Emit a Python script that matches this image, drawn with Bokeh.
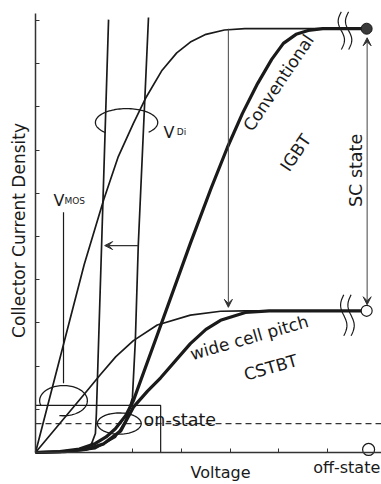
import numpy as np
from bokeh.plotting import figure
from bokeh.models import Range1d, Label, Arrow, VeeHead, FixedTicker, LinearAxis
from bokeh.embed import file_html
from bokeh.resources import INLINE

FONT = "DejaVu Sans"
INK = "#1a1a1a"

# ---------------- data (Voltage, Current density; arbitrary units) ----------------
mos_hi_v = [0, 1.0, 1.4, 1.7, 2.01, 2.26, 2.6, 2.9, 3.18, 3.5, 3.88, 4.3, 6.80]
mos_hi_i = [0, 4.35, 5.85, 6.85, 7.62, 8.2, 8.85, 9.25, 9.5, 9.68, 9.78, 9.81, 9.81]

mos_lo_v = [0, 1.0, 1.33, 1.65, 2.01, 2.5, 3.18, 3.8, 4.3, 6.80]
mos_lo_i = [0, 1.35, 1.8, 2.22, 2.59, 2.95, 3.18, 3.27, 3.28, 3.28]

conv_v = [0, 0.5, 0.9, 1.23, 1.45, 1.64, 1.85, 2.01, 2.5, 3.18, 3.6, 3.94, 4.25, 4.56, 4.85, 5.09, 5.35, 5.6, 5.9, 6.80]
conv_i = [0, 0.02, 0.08, 0.21, 0.36, 0.55, 0.85, 1.2, 2.72, 4.84, 6.1, 7.06, 7.85, 8.54, 9.1, 9.47, 9.68, 9.77, 9.81, 9.81]

cstbt_v = [0, 0.6, 1.03, 1.4, 1.75, 2.01, 2.3, 2.57, 3.18, 3.5, 3.8, 4.31, 4.8, 6.80]
cstbt_i = [0, 0.02, 0.07, 0.2, 0.5, 1.05, 1.42, 1.73, 2.52, 2.85, 3.06, 3.24, 3.28, 3.28]

diode1_v = [0, 0.72, 1.03, 1.15, 1.23, 1.25, 1.28, 1.36, 1.50]
diode1_i = [0, 0.02, 0.09, 0.2, 0.44, 0.9, 2.0, 4.9, 10.02]

diode2_v = [0, 0.72, 1.23, 1.64, 1.85, 1.99, 2.05, 2.11, 2.32]
diode2_i = [0, 0.02, 0.09, 0.35, 0.74, 1.27, 2.59, 4.79, 10.07]

on_state_i = 0.67
sc_conv_i = 9.81
sc_cstbt_i = 3.28

x_ticks = [2, 3, 4, 5, 6]
y_ticks = [1, 2, 3, 4, 5, 6, 7, 8, 9, 10]

X_MIN, X_MAX = -0.719, 7.105
Y_MIN, Y_MAX = -0.741, 10.463

# ---------------- figure ----------------
p = figure(width=381, height=484, output_backend="svg", toolbar_location=None,
           x_range=Range1d(X_MIN, X_MAX), y_range=Range1d(Y_MIN, Y_MAX),
           x_axis_location=None, y_axis_location=None,
           min_border_left=0, min_border_right=0, min_border_top=0, min_border_bottom=0)
p.grid.visible = False
p.outline_line_color = None
p.background_fill_color = "white"
p.border_fill_color = "white"

xax = LinearAxis(fixed_location=0, ticker=FixedTicker(ticks=x_ticks), bounds=(0, X_MAX),
                 major_label_overrides={t: "" for t in x_ticks})
yax = LinearAxis(fixed_location=0, ticker=FixedTicker(ticks=y_ticks), bounds=(0, 10.16),
                 major_label_overrides={t: "" for t in y_ticks})
for ax in (xax, yax):
    ax.major_tick_in = 4
    ax.major_tick_out = 0
    ax.minor_tick_line_color = None
    ax.axis_line_width = 1.5
    ax.axis_line_color = "#333333"
    ax.major_tick_line_color = "#333333"
    ax.major_tick_line_width = 1
p.add_layout(xax, "below")
p.add_layout(yax, "left")

# on-state dashed level and box
p.line([0, X_MAX], [on_state_i, on_state_i], line_dash="6 4", line_color="#333333", line_width=1.2)
p.line([0, 2.57, 2.57], [1.09, 1.09, 0], line_color=INK, line_width=1.2)

# thin curves
thin = dict(line_color=INK, line_width=1.7)
p.line(mos_hi_v, mos_hi_i, **thin)
p.line(mos_lo_v, mos_lo_i, **thin)
p.line(diode1_v, diode1_i, **thin)
p.line(diode2_v, diode2_i, **thin)
# thick curves
thick = dict(line_color=INK, line_width=3.2, line_join="round")
p.line(conv_v, conv_i, **thick)
p.line(cstbt_v, cstbt_i, **thick)

# loops / ellipses
def ell_arc(cx, cy, rx, ry, a0, a1, n=80):
    t = np.radians(np.linspace(a0, a1, n))
    return cx + rx * np.cos(t), cy + ry * np.sin(t)

for (cx, cy, rx, ry, a0, a1) in [(1.87, 7.64, 0.64, 0.32, -45, 227),
                                 (0.575, 1.20, 0.49, 0.35, -100, 200),
                                 (1.72, 0.67, 0.45, 0.245, 0, 360)]:
    xs, ys = ell_arc(cx, cy, rx, ry, a0, a1)
    p.line(xs, ys, line_color=INK, line_width=1.3)

# V_MOS pointer
p.line([0.575, 0.575], [1.60, 5.56], line_color=INK, line_width=1.2)

# break marks
def brk(x0, ytop, ybot, amp=0.065, n=40):
    t = np.linspace(0, 1, n)
    return x0 - amp * np.sin(2 * np.pi * t), ytop - t * (ytop - ybot)

for x0, yt, yb in [(6.28, 10.2, 9.33), (6.43, 10.2, 9.33), (6.33, 3.65, 2.70), (6.48, 3.65, 2.70)]:
    xs, ys = brk(x0, yt, yb)
    p.line(xs, ys, line_color=INK, line_width=1.2)

# arrows
head = lambda: VeeHead(size=8, fill_color="#333333", line_color="#333333", line_width=1)
p.add_layout(Arrow(end=head(), x_start=3.96, y_start=sc_conv_i, x_end=3.96, y_end=3.36,
                   line_color="#444444", line_width=1))
p.add_layout(Arrow(start=head(), end=head(), x_start=6.81, y_start=9.60, x_end=6.81, y_end=3.42,
                   line_color="#444444", line_width=1))
p.add_layout(Arrow(end=head(), x_start=2.11, y_start=4.79, x_end=1.42, y_end=4.79,
                   line_color="#333333", line_width=1.2))

# end markers
p.scatter([6.80], [sc_conv_i], size=11, fill_color="#3a3a3a", line_color=INK, line_width=1)
p.scatter([6.80], [sc_cstbt_i], size=11, fill_color="white", line_color=INK, line_width=1.2)
p.scatter([6.84], [0.07], size=12, fill_color="white", line_color=INK, line_width=1.2)

# texts
def txt(x, y, text, size, angle=0.0, align="left", baseline="alphabetic"):
    p.add_layout(Label(x=x, y=y, text=text, text_font=FONT, text_font_size=f"{size}px",
                       angle=angle, text_align=align, text_baseline=baseline, text_color=INK))

txt(-0.33, 5.14, "Collector Current Density", 17, angle=np.pi / 2, align="center", baseline="middle")
txt(3.80, -0.46, "Voltage", 16, align="center")
txt(7.08, -0.35, "off-state", 16, align="right")
txt(2.22, 0.76, "on-state", 17.5)
txt(4.99, 8.56, "Conventional", 17, angle=np.radians(56), align="center", baseline="middle")
txt(5.34, 6.94, "IGBT", 17, angle=np.radians(56), align="center", baseline="middle")
txt(6.59, 6.53, "SC state", 17.5, angle=np.pi / 2, align="center", baseline="middle")
txt(4.39, 2.66, "wide cell pitch", 17, angle=np.radians(16), align="center", baseline="middle")
txt(4.83, 1.97, "CSTBT", 17, angle=np.radians(16), align="center", baseline="middle")
txt(0.37, 5.83, "V", 16)
txt(0.595, 5.83, "MOS", 9)
txt(2.63, 7.41, "V", 16)
txt(2.90, 7.41, "Di", 9)

open("out.html", "w").write(file_html(p, INLINE))
